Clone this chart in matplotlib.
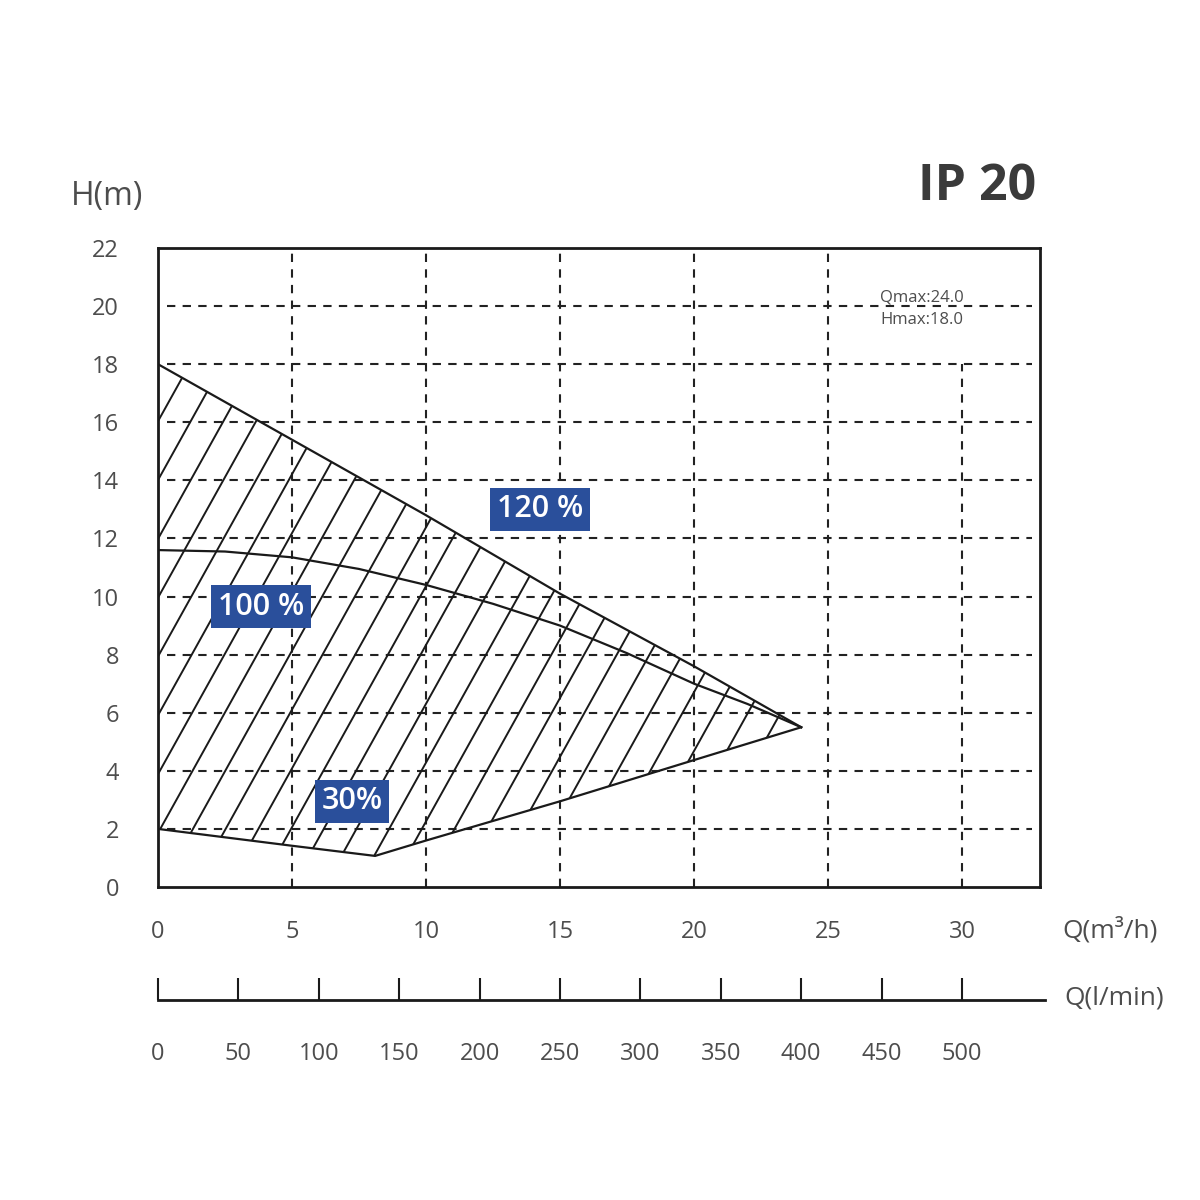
import numpy as np
import matplotlib.pyplot as plt
from matplotlib.patches import Polygon

plt.rcParams['font.family'] = ['Open Sans', 'DejaVu Sans']

# --- data ---
q_120 = [0, 5, 10, 15, 20, 24]
h_120 = [18.0, 15.4, 12.8, 10.1, 7.6, 5.5]

q_100 = [0, 2.5, 5, 7.5, 10, 12.5, 15, 17.5, 20, 22, 24]
h_100 = [11.6, 11.55, 11.35, 10.95, 10.4, 9.75, 9.0, 8.05, 7.0, 6.3, 5.5]

q_30 = [0, 5, 8.1, 10, 15, 20, 24]
h_30 = [2.0, 1.42, 1.07, 1.6, 2.95, 4.37, 5.5]

q_ticks = [0, 5, 10, 15, 20, 25, 30]
h_ticks = [0, 2, 4, 6, 8, 10, 12, 14, 16, 18, 20, 22]
lmin_ticks = [0, 50, 100, 150, 200, 250, 300, 350, 400, 450, 500]

labels = ['120 %', '100 %', '30%']
model = 'IP 20'
info = 'Qmax:24.0\nHmax:18.0'

# --- style ---
grey = '#4d4d4d'
blue = '#2a4f9b'
ink = '#1a1a1a'
grid_kw = dict(color='#222222', lw=1.5, linestyle=(0, (4, 3.5)))

fig = plt.figure(figsize=(12, 12), dpi=100)
ax = fig.add_axes([158/1200, 1 - 887/1200, (1040 - 158)/1200, (887 - 248)/1200])
qmax = (1040 - 158) / 26.8
ax.set_xlim(0, qmax)
ax.set_ylim(0, 22)

# grid
ax.hlines(h_ticks[1:-1], 0.35, 32.6, **grid_kw, zorder=1)
ax.vlines(q_ticks[1:-1], 0, 22, **grid_kw, zorder=1)
ax.vlines(q_ticks[-1], 0, 18, **grid_kw, zorder=1)

# hatched operating region
region = np.column_stack([q_120 + q_30[::-1], h_120 + h_30[::-1]])
clip = Polygon(region, closed=True, transform=ax.transData, fill=False, lw=0)
ax.add_patch(clip)
slope = 1.66
step = 1.22
for c in np.arange(0.10 - 10 * step, 25, step):
    ln, = ax.plot([c, c + 22 / slope], [0, 22], color=ink, lw=1.4, zorder=2)
    ln.set_clip_path(clip)

# curves
for q, h in [(q_120, h_120), (q_100, h_100), (q_30, h_30)]:
    ax.plot(q, h, color=ink, lw=1.6, zorder=3)

# labels
box = dict(boxstyle='square,pad=0.22', fc=blue, ec='none')
for txt, (x, y) in zip(labels, [(14.25, 13.0), (3.84, 9.65), (7.24, 2.95)]):
    ax.text(x, y, txt, color='white', fontsize=22, fontweight='semibold',
            ha='center', va='center', bbox=box, zorder=4)

ax.text(26.94, 19.9, info, fontsize=12, color=grey, ha='left', va='center',
        linespacing=1.55)

for s in ax.spines.values():
    s.set_linewidth(2)
    s.set_color(ink)
ax.set_xticks(q_ticks)
ax.set_yticks(h_ticks)
ax.tick_params(length=0, labelsize=17, labelcolor=grey)
ax.tick_params(axis='x', pad=24)
ax.tick_params(axis='y', pad=28)

# l/min scale
ax2 = fig.add_axes([158/1200, 1 - 1000/1200, (1045 - 158)/1200, 0.02])
ax2.set_xlim(0, (1045 - 158) / 26.8 * 1000 / 60)
ax2.set_facecolor('none')
for k in ['top', 'left', 'right']:
    ax2.spines[k].set_visible(False)
ax2.spines['bottom'].set_linewidth(2)
ax2.spines['bottom'].set_color(ink)
ax2.set_yticks([])
ax2.set_xticks(lmin_ticks)
ax2.tick_params(axis='x', direction='in', length=16, width=1.5, color=ink,
                pad=30, labelsize=17, labelcolor=grey)

fig.text(107/1200, 1 - 196/1200, 'H(m)', fontsize=23, color=grey, ha='center', va='center')
fig.text(1036/1200, 1 - 187/1200, model, fontsize=36, fontweight='bold', color='#3a3a3a',
         ha='right', va='center')
fig.text(1062/1200, 1 - 930/1200, 'Q(m³/h)', fontsize=19, color=grey, ha='left', va='center')
fig.text(1064/1200, 1 - 998/1200, 'Q(l/min)', fontsize=19, color=grey, ha='left', va='center')

plt.savefig('out.png', dpi=100)
